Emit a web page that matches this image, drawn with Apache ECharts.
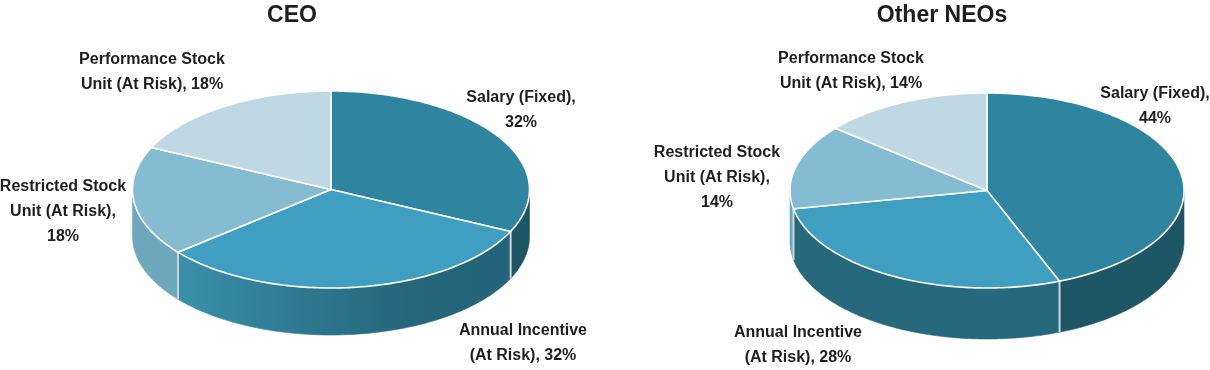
<!DOCTYPE html>
<html>
<head>
<meta charset="utf-8">
<script src="https://cdn.jsdelivr.net/npm/echarts@6/dist/echarts.min.js"></script>
<style>
html,body{margin:0;padding:0;background:#fff;}
#main{width:1210px;height:370px;}
</style>
</head>
<body>
<div id="main"></div>
<script>
// ---- data ----
const categories = ['Salary (Fixed)', 'Annual Incentive (At Risk)', 'Restricted Stock Unit (At Risk)', 'Performance Stock Unit (At Risk)'];
const ceoValues = [32, 32, 18, 18];
const neoValues = [44, 28, 14, 14];
const chartTitles = ['CEO', 'Other NEOs'];
// label wrapping formats ({v} = value)
const labelFormats = [
  'Salary (Fixed),\n{v}%',
  'Annual Incentive\n(At Risk), {v}%',
  'Restricted Stock\nUnit (At Risk),\n{v}%',
  'Performance Stock\nUnit (At Risk), {v}%'
];

// ---- layout / style ----
const topColors = ['#2F84A0', '#409FC0', '#85BCD2', '#BFD8E4'];
const pies = [
  {cx: 331, cy: 189.5, rx: 198.5, ry: 98.5, depth: 47,
   labelPos: [[521, 110.5], [523, 343.5], [63, 212], [152, 72]],
   sideColors: ['#1F5666',
     {type: 'linear', x: 178, y: 0, x2: 512, y2: 0, global: true,
      colorStops: [{offset: 0, color: '#3A90AB'}, {offset: 0.45, color: '#2C748A'}, {offset: 0.7, color: '#25667A'}, {offset: 1, color: '#24647A'}]},
     '#6FA7BD', '#A9C6D3']},
  {cx: 987, cy: 190.5, rx: 197, ry: 97.5, depth: 51,
   labelPos: [[1155, 106], [798, 345.5], [717, 177.5], [851, 71.5]],
   sideColors: ['#1F5666', '#27697C', '#6FA6BB', '#A9C6D3']}
];

function ellPt(g, deg, dy) {
  const r = deg * Math.PI / 180;
  return [g.cx + g.rx * Math.sin(r), g.cy - g.ry * Math.cos(r) + (dy || 0)];
}
function arcPts(g, a0, a1, dy) {
  const pts = [];
  const n = Math.max(2, Math.ceil(Math.abs(a1 - a0)));
  for (let k = 0; k <= n; k++) pts.push(ellPt(g, a0 + (a1 - a0) * k / n, dy));
  return pts;
}

function makeRender(values, g) {
  const total = values.reduce((s, v) => s + v, 0);
  return function (params, api) {
    const i = params.dataIndex;
    let acc = 0;
    for (let k = 0; k < i; k++) acc += values[k];
    const v = api.value(0);
    const a0 = acc / total * 360, a1 = (acc + v) / total * 360;
    const children = [];
    // top face
    children.push({
      type: 'polygon', z2: 10,
      shape: {points: [[g.cx, g.cy]].concat(arcPts(g, a0, a1))},
      style: {fill: topColors[i], stroke: '#ffffff', lineWidth: 1.6, lineJoin: 'round'}
    });
    // side wall (front half only: 90..270 deg)
    const s = Math.max(a0, 90), e = Math.min(a1, 270);
    if (e > s) {
      const top = arcPts(g, s, e);
      const bot = arcPts(g, e, s, g.depth);
      children.push({
        type: 'polygon', z2: 1,
        shape: {points: top.concat(bot)},
        style: {fill: g.sideColors[i], stroke: g.sideColors[i], lineWidth: 0.6}
      });
      [a0, a1].forEach(function (a) {
        if (a > 90.5 && a < 269.5) {
          const p = ellPt(g, a);
          children.push({
            type: 'line', z2: 3,
            shape: {x1: p[0], y1: p[1], x2: p[0], y2: p[1] + g.depth},
            style: {stroke: '#C9D7DD', lineWidth: 1.6}
          });
        }
      });
    }
    // label
    const lp = g.labelPos[i];
    children.push({
      type: 'text', z2: 20, x: lp[0], y: lp[1],
      style: {
        text: labelFormats[i].replace('{v}', v),
        fill: '#1E1E1E', fontSize: 16, fontWeight: 'bold',
        fontFamily: '"Liberation Sans", Arial, sans-serif',
        align: 'center', verticalAlign: 'middle', lineHeight: 25
      }
    });
    return {type: 'group', children: children};
  };
}

const chart = echarts.init(document.getElementById('main'), null, {renderer: 'canvas'});
const titleStyle = {fontSize: 23, fontWeight: 'bold', color: '#1E1E1E', fontFamily: '"Liberation Sans", Arial, sans-serif'};
chart.setOption({
  animation: false,
  backgroundColor: '#ffffff',
  title: [
    {text: chartTitles[0], left: 292, top: 4, padding: 0, textAlign: 'center', textStyle: titleStyle},
    {text: chartTitles[1], left: 942, top: 4, padding: 0, textAlign: 'center', textStyle: titleStyle}
  ],
  series: [
    {type: 'custom', name: chartTitles[0], coordinateSystem: 'none', renderItem: makeRender(ceoValues, pies[0]),
     data: ceoValues.map((v, k) => ({name: categories[k], value: [v]}))},
    {type: 'custom', name: chartTitles[1], coordinateSystem: 'none', renderItem: makeRender(neoValues, pies[1]),
     data: neoValues.map((v, k) => ({name: categories[k], value: [v]}))}
  ]
});
</script>
</body>
</html>
